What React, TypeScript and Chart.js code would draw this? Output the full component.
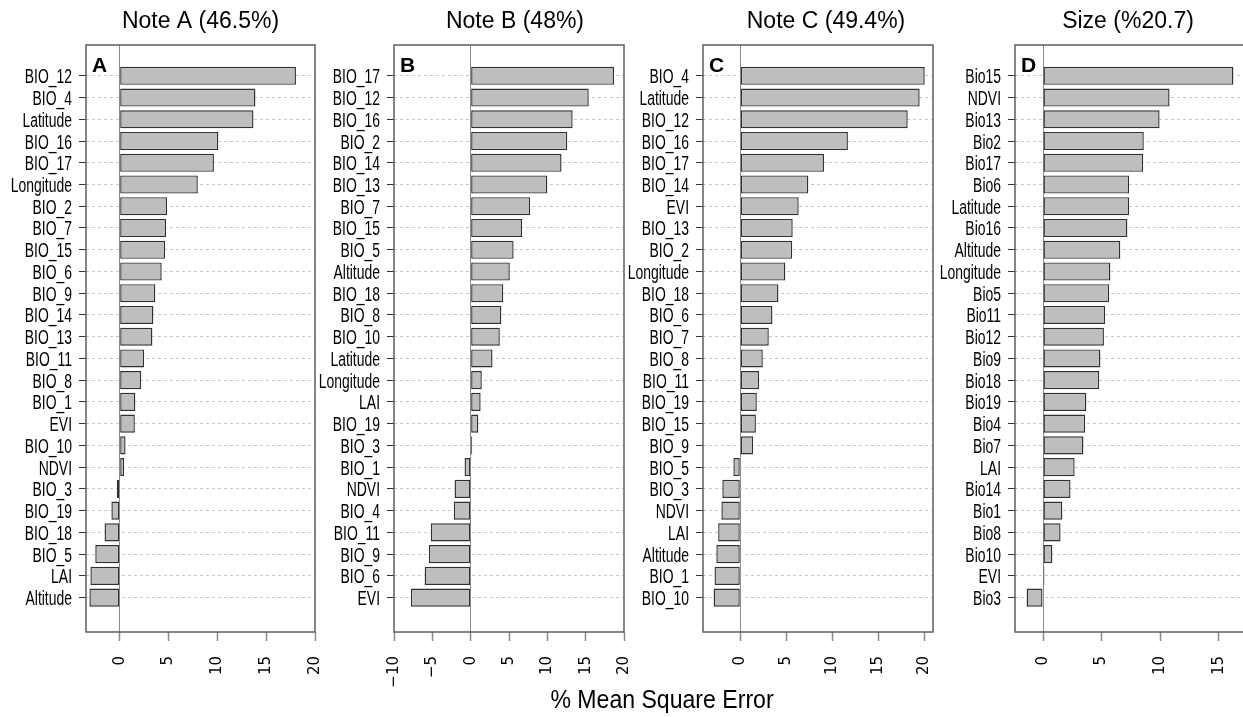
import { useEffect, useRef } from "react";
import { Chart, registerables } from "chart.js";

Chart.register(...registerables);

// ---- Data: % increase in mean square error per predictor ----
const labelsA = ["BIO_12", "BIO_4", "Latitude", "BIO_16", "BIO_17", "Longitude", "BIO_2", "BIO_7", "BIO_15", "BIO_6", "BIO_9", "BIO_14", "BIO_13", "BIO_11", "BIO_8", "BIO_1", "EVI", "BIO_10", "NDVI", "BIO_3", "BIO_19", "BIO_18", "BIO_5", "LAI", "Altitude"];
const valuesA = [18.05, 13.9, 13.7, 10.1, 9.65, 8.0, 4.85, 4.75, 4.65, 4.3, 3.65, 3.45, 3.35, 2.5, 2.2, 1.6, 1.55, 0.6, 0.45, -0.3, -0.85, -1.55, -2.5, -3.0, -3.1];

const labelsB = ["BIO_17", "BIO_12", "BIO_16", "BIO_2", "BIO_14", "BIO_13", "BIO_7", "BIO_15", "BIO_5", "Altitude", "BIO_18", "BIO_8", "BIO_10", "Latitude", "Longitude", "LAI", "BIO_19", "BIO_3", "BIO_1", "NDVI", "BIO_4", "BIO_11", "BIO_9", "BIO_6", "EVI"];
const valuesB = [18.7, 15.4, 13.3, 12.6, 11.85, 10.0, 7.75, 6.7, 5.6, 5.1, 4.25, 4.0, 3.8, 2.85, 1.45, 1.3, 1.0, 0.2, -0.8, -2.1, -2.2, -5.2, -5.45, -6.0, -7.8];

const labelsC = ["BIO_4", "Latitude", "BIO_12", "BIO_16", "BIO_17", "BIO_14", "EVI", "BIO_13", "BIO_2", "Longitude", "BIO_18", "BIO_6", "BIO_7", "BIO_8", "BIO_11", "BIO_19", "BIO_15", "BIO_9", "BIO_5", "BIO_3", "NDVI", "LAI", "Altitude", "BIO_1", "BIO_10"];
const valuesC = [20.05, 19.5, 18.2, 11.7, 9.1, 7.4, 6.35, 5.7, 5.65, 4.9, 4.15, 3.5, 3.1, 2.45, 2.05, 1.8, 1.7, 1.4, -0.75, -1.95, -2.05, -2.4, -2.6, -2.8, -2.9];

const labelsD = ["Bio15", "NDVI", "Bio13", "Bio2", "Bio17", "Bio6", "Latitude", "Bio16", "Altitude", "Longitude", "Bio5", "Bio11", "Bio12", "Bio9", "Bio18", "Bio19", "Bio4", "Bio7", "LAI", "Bio14", "Bio1", "Bio8", "Bio10", "EVI", "Bio3"];
const valuesD = [16.25, 10.8, 9.95, 8.6, 8.55, 7.35, 7.35, 7.2, 6.6, 5.75, 5.65, 5.3, 5.2, 4.9, 4.8, 3.7, 3.6, 3.45, 2.7, 2.35, 1.65, 1.5, 0.8, 0.12, -1.4];

const titles = ["Note A (46.5%)", "Note B (48%)", "Note C (49.4%)", "Size (%20.7)"];
const panelLetters = ["A", "B", "C", "D"];

const xTicksA = [0, 5, 10, 15, 20];
const xTicksB = [-10, -5, 0, 5, 10, 15, 20];
const xTicksC = [0, 5, 10, 15, 20];
const xTicksD = [0, 5, 10, 15];

const xAxisTitle = "% Mean Square Error";

// ---- Layout ----
const PAGE_W = 1243;
const PAGE_H = 717;
const PLOT_TOP = 45;
const PLOT_BOTTOM = 632;
const Y_AXIS_W = 86;
const RIGHT_PAD = 12;
const Y_TICK_LEN = 7;
const Y_LABEL_GAP = 7;

const panels = [
  { labels: labelsA, values: valuesA, xTicks: xTicksA, xMin: -3.45, xMax: 20, boxLeft: 86, boxWidth: 229, titleDx: 0 },
  { labels: labelsB, values: valuesB, xTicks: xTicksB, xMin: -10, xMax: 20, boxLeft: 394, boxWidth: 230, titleDx: 6 },
  { labels: labelsC, values: valuesC, xTicks: xTicksC, xMin: -4.05, xMax: 20.95, boxLeft: 703, boxWidth: 230, titleDx: 8 },
  { labels: labelsD, values: valuesD, xTicks: xTicksD, xMin: -2.39, xMax: 17.24, boxLeft: 1015, boxWidth: 230, titleDx: -2 },
].map((p, i) => ({ ...p, title: titles[i], letter: panelLetters[i] }));

const SANS = "'Liberation Sans', Arial, Helvetica, sans-serif";

const fmtTick = (v: number) => (v < 0 ? "\u2212" + Math.abs(v) : String(v));

// Condensed category labels, frame, panel letter and heading
const panelDecor = {
  id: "panelDecor",
  afterDraw(chart: any, _args: any, opts: any) {
    const { ctx, chartArea: a } = chart;
    const yScale = chart.scales.y;
    ctx.save();

    // category names on the y axis, horizontally condensed
    ctx.fillStyle = "#000";
    ctx.font = `20.5px ${SANS}`;
    ctx.textAlign = "right";
    ctx.textBaseline = "alphabetic";
    const xr = yScale.right - Y_TICK_LEN - Y_LABEL_GAP;
    yScale.ticks.forEach((t: any) => {
      const y = yScale.getPixelForValue(t.value);
      ctx.save();
      ctx.translate(xr, y + 7.5);
      ctx.scale(0.68, 1);
      ctx.fillText(opts.labels[t.value], 0, 0);
      ctx.restore();
    });

    // plot frame
    ctx.strokeStyle = "#5e5e5e";
    ctx.lineWidth = 1.5;
    ctx.strokeRect(a.left, a.top, a.right - a.left, a.bottom - a.top);

    // panel letter
    ctx.textAlign = "left";
    ctx.font = `bold 21px ${SANS}`;
    ctx.fillText(opts.letter, a.left + 6, a.top + 27);

    // panel heading
    ctx.textAlign = "center";
    ctx.font = `23px ${SANS}`;
    ctx.fillText(opts.title, (a.left + a.right) / 2 + opts.titleDx, 28);
    ctx.restore();
  },
};

function makeConfig(p: any): any {
  const n = p.labels.length;
  return {
    type: "bar",
    data: {
      datasets: [
        {
          data: p.values.map((v: number, i: number) => ({ x: v, y: i })),
          backgroundColor: "#bebebe",
          borderColor: "#303030",
          borderWidth: 1.4,
          borderSkipped: false,
          barPercentage: 1 / 1.2,
          categoryPercentage: 1,
        },
      ],
    },
    options: {
      indexAxis: "y",
      responsive: false,
      animation: false,
      events: [],
      layout: { padding: { top: PLOT_TOP, right: RIGHT_PAD, bottom: 0, left: 0 } },
      plugins: {
        legend: { display: false },
        tooltip: { enabled: false },
        title: { display: false },
        panelDecor: { letter: p.letter, title: p.title, titleDx: p.titleDx, labels: p.labels },
      },
      scales: {
        x: {
          type: "linear",
          position: "bottom",
          min: p.xMin,
          max: p.xMax,
          offset: false,
          afterBuildTicks: (s: any) => {
            s.ticks = p.xTicks.map((v: number) => ({ value: v }));
          },
          afterFit: (s: any) => {
            s.height = PAGE_H - PLOT_BOTTOM;
            s.paddingLeft = 0;
            s.paddingRight = 0;
          },
          ticks: {
            autoSkip: false,
            minRotation: 90,
            maxRotation: 90,
            padding: 15,
            color: "#000",
            font: { family: "'DejaVu Sans', sans-serif", size: 15 },
            callback: (v: number) => fmtTick(v),
          },
          grid: {
            offset: false,
            drawOnChartArea: true,
            color: (c: any) => (c.tick && c.tick.value === 0 ? "#8a8a8a" : "rgba(0,0,0,0)"),
            lineWidth: 1,
            tickLength: 9,
            tickColor: "#8a8a8a",
            tickWidth: 1.5,
          },
          border: { display: false },
        },
        y: {
          type: "linear",
          position: "left",
          reverse: true,
          offset: false,
          min: -1.417,
          max: n - 1 + 1.583,
          afterBuildTicks: (s: any) => {
            s.ticks = p.labels.map((_: string, i: number) => ({ value: i }));
          },
          afterFit: (s: any) => {
            s.width = Y_AXIS_W;
            s.paddingTop = 0;
            s.paddingBottom = 0;
          },
          ticks: {
            display: false,
            autoSkip: false,
          },
          grid: {
            offset: false,
            color: "#c8c8c8",
            lineWidth: 1,
            tickLength: Y_TICK_LEN,
            tickColor: "#333333",
            tickWidth: 1,
            tickBorderDash: [],
          },
          border: { display: false, dash: [3, 3] },
        },
      },
    },
    plugins: [panelDecor],
  };
}

export default function App() {
  const refs = useRef<(HTMLCanvasElement | null)[]>([]);

  useEffect(() => {
    const charts = panels.map((p, i) => new Chart(refs.current[i] as HTMLCanvasElement, makeConfig(p)));
    return () => charts.forEach((c) => c.destroy());
  }, []);

  return (
    <div
      style={{
        position: "absolute",
        left: 0,
        top: 0,
        width: PAGE_W,
        height: PAGE_H,
        overflow: "hidden",
        background: "#fff",
      }}
    >
      {panels.map((p, i) => (
        <canvas
          key={p.letter}
          ref={(el) => {
            refs.current[i] = el;
          }}
          width={Y_AXIS_W + p.boxWidth + RIGHT_PAD}
          height={PAGE_H}
          style={{ position: "absolute", left: p.boxLeft - Y_AXIS_W, top: 0, display: "block" }}
        />
      ))}
      <div
        style={{
          position: "absolute",
          left: 461.5,
          width: 400,
          top: 684,
          textAlign: "center",
          fontFamily: SANS,
          fontSize: 25.5,
          lineHeight: "30px",
          color: "#000",
          whiteSpace: "nowrap",
          transform: "scaleX(0.905)",
          transformOrigin: "50% 50%",
        }}
      >
        {xAxisTitle}
      </div>
    </div>
  );
}
